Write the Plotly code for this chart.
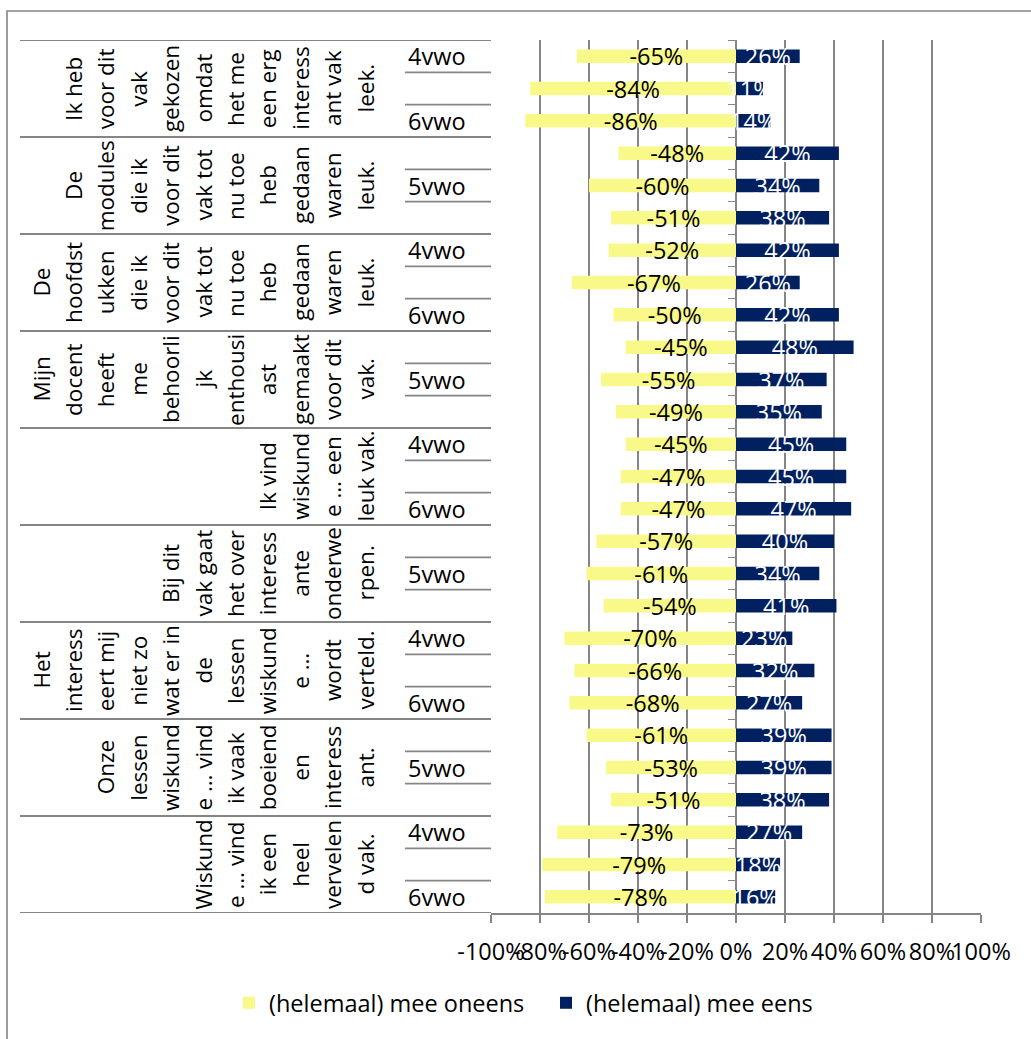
import plotly.graph_objects as go

# Statements (as wrapped in the category table) and class levels
statements = [
    ["Ik heb", "voor dit", "vak", "gekozen", "omdat", "het me", "een erg", "interess", "ant vak", "leek."],
    ["De", "modules", "die ik", "voor dit", "vak tot", "nu toe", "heb", "gedaan", "waren", "leuk."],
    ["De", "hoofdst", "ukken", "die ik", "voor dit", "vak tot", "nu toe", "heb", "gedaan", "waren", "leuk."],
    ["Mijn", "docent", "heeft", "me", "behoorli", "jk", "enthousi", "ast", "gemaakt", "voor dit", "vak."],
    ["Ik vind", "wiskund", "e … een", "leuk vak."],
    ["Bij dit", "vak gaat", "het over", "interess", "ante", "onderwe", "rpen."],
    ["Het", "interess", "eert mij", "niet zo", "wat er in", "de", "lessen", "wiskund", "e …", "wordt", "verteld."],
    ["Onze", "lessen", "wiskund", "e … vind", "ik vaak", "boeiend", "en", "interess", "ant."],
    ["Wiskund", "e … vind", "ik een", "heel", "vervelen", "d vak."],
]
classes = ["4vwo", "5vwo", "6vwo"]

# Percentages per statement x class (rows top to bottom)
disagree = [-65, -84, -86, -48, -60, -51, -52, -67, -50,
            -45, -55, -49, -45, -47, -47, -57, -61, -54,
            -70, -66, -68, -61, -53, -51, -73, -79, -78]
agree = [26, 11, 14, 42, 34, 38, 42, 26, 42,
         48, 37, 35, 45, 45, 47, 40, 34, 41,
         23, 32, 27, 39, 39, 38, 27, 18, 16]

tick_vals = [-100, -80, -60, -40, -20, 0, 20, 40, 60, 80, 100]
tick_text = ["-100%", "-80%", "-60%", "-40%", "-20%", "0%", "20%", "40%", "60%", "80%", "100%"]

series_names = ["(helemaal) mee oneens", "(helemaal) mee eens"]

FONT = "Open Sans"
FS = 23.5        # horizontal text size
FS_ROT = 22.5    # rotated statement text size
YELLOW = "#F9F98A"
NAVY = "#002060"
GRID = "#858585"

W, H = 1031, 1039
L, R, T, B = 491, 50, 40, 126
PW = W - L - R


def px_x(px):
    """Pixel column -> paper x."""
    return (px - L) / PW


def px_y(py):
    """Pixel row -> paper y."""
    return (H - B - py) / (H - T - B)


n_rows = len(disagree)
rows = list(range(n_rows))
n_cls = len(classes)

fig = go.Figure()
fig.add_trace(go.Bar(
    y=rows, x=[v / 100 for v in disagree], orientation="h", width=0.415,
    marker=dict(color=YELLOW, line=dict(width=0)), name=series_names[0],
    text=[f"{v}%" for v in disagree], textposition="inside",
    insidetextanchor="middle", textangle=0, constraintext="none",
    textfont=dict(color="black", size=FS, family=FONT), legend="legend",
    hoverinfo="skip",
))
fig.add_trace(go.Bar(
    y=rows, x=[v / 100 for v in agree], orientation="h", width=0.415,
    marker=dict(color=NAVY, line=dict(width=0)), name=series_names[1],
    text=[f"{v}%" for v in agree], textposition="inside",
    insidetextanchor="middle", textangle=0, constraintext="none",
    textfont=dict(color="white", size=FS, family=FONT), legend="legend2",
    hoverinfo="skip",
))

shapes = []
line_style = dict(color=GRID, width=1.8)
# table: group separators across both label columns
for g in range(len(statements) + 1):
    yv = g * n_cls - 0.5
    shapes.append(dict(type="line", xref="paper", yref="y", x0=px_x(20), x1=px_x(491),
                       y0=yv, y1=yv, line=line_style, layer="above"))
# table: separators between the class rows
for g in range(len(statements)):
    for c in range(1, n_cls):
        yv = g * n_cls + c - 0.5
        shapes.append(dict(type="line", xref="paper", yref="y", x0=px_x(405), x1=px_x(491),
                           y0=yv, y1=yv, line=line_style, layer="above"))
# outer chart frame
shapes.append(dict(type="rect", xref="paper", yref="paper", x0=px_x(7), x1=px_x(1060),
                   y0=px_y(1070), y1=px_y(11), line=dict(color=GRID, width=1.6),
                   fillcolor="rgba(0,0,0,0)", layer="above"))

annotations = []
# rotated statement text, one annotation per wrapped line
for g, lines in enumerate(statements):
    yc = g * n_cls + (n_cls - 1) / 2
    n = len(lines)
    for i, txt in enumerate(lines):
        xc = 365 - (n - 1 - i) * 32.4
        annotations.append(dict(
            text=txt, xref="paper", yref="y", x=px_x(xc), y=yc, textangle=-90,
            showarrow=False, xanchor="center", yanchor="middle",
            font=dict(family=FONT, size=FS_ROT, color="black"),
        ))
# class labels (every other row is labelled)
for r in rows:
    if r % 2 == 0:
        annotations.append(dict(
            text=classes[r % n_cls], xref="paper", yref="y", x=px_x(406), y=r,
            showarrow=False, xanchor="left", yanchor="middle",
            font=dict(family=FONT, size=FS, color="black"),
        ))

fig.update_layout(
    width=W, height=H,
    margin=dict(l=L, r=R, t=T, b=B, pad=0),
    paper_bgcolor="white", plot_bgcolor="white",
    barmode="overlay",
    font=dict(family=FONT, size=FS, color="black"),
    xaxis=dict(
        range=[-1, 1], tickvals=[v / 100 for v in tick_vals], ticktext=tick_text,
        tickangle=0, showgrid=True, gridcolor=GRID, gridwidth=1.8,
        zeroline=False, showline=True, linecolor=GRID, linewidth=1.8,
        ticks="outside", ticklen=8, tickwidth=1.8, tickcolor=GRID,
        ticklabelstandoff=9, tickfont=dict(family=FONT, size=FS, color="black"),
        fixedrange=True,
    ),
    yaxis=dict(
        range=[n_rows - 0.5, -0.5], anchor="free", position=0.5,
        showline=True, linecolor=GRID, linewidth=1.2, layer="below traces",
        ticks="outside", ticklen=8, tickwidth=1.2, tickcolor=GRID,
        tickvals=[k - 0.5 for k in range(n_rows + 1)], showticklabels=False,
        showgrid=False, zeroline=False, fixedrange=True,
    ),
    legend=dict(orientation="h", x=px_x(229), y=px_y(1003), xanchor="left", yanchor="middle",
                font=dict(family=FONT, size=FS, color="black"), bgcolor="rgba(0,0,0,0)",
                itemwidth=30),
    legend2=dict(orientation="h", x=px_x(546), y=px_y(1003), xanchor="left", yanchor="middle",
                 font=dict(family=FONT, size=FS, color="black"), bgcolor="rgba(0,0,0,0)",
                 itemwidth=30),
    shapes=shapes,
    annotations=annotations,
    showlegend=True,
)

fig.write_html("out.html")
